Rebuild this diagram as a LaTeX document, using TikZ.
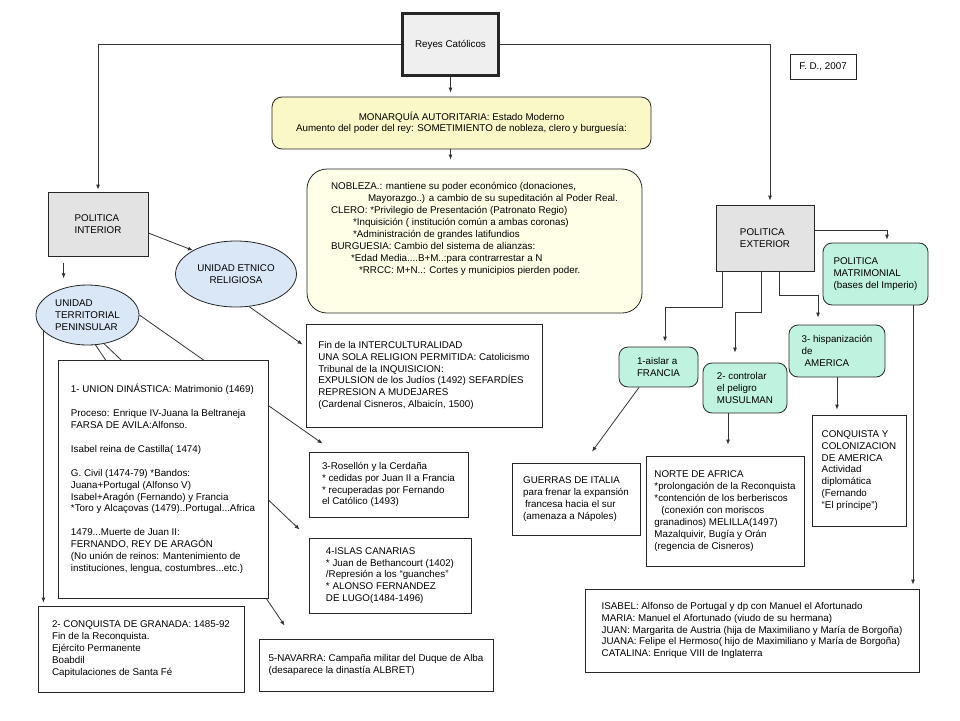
\documentclass[tikz,border=0pt]{standalone}
\usepackage{fontspec}
\setmainfont{Liberation Sans}
\usetikzlibrary{arrows.meta,shapes.geometric,backgrounds}
\definecolor{grisclaro}{HTML}{EFEFEF}
\definecolor{gris}{HTML}{E3E3E3}
\definecolor{amarillo}{HTML}{FBF8C8}
\definecolor{crema}{HTML}{FFFFE8}
\definecolor{celeste}{HTML}{DAE7F6}
\definecolor{menta}{HTML}{BFF2DF}
\begin{document}
\begin{tikzpicture}[x=1pt,y=-1pt,
    every node/.style={font=\fontsize{9.8}{11.9}\selectfont,inner sep=0pt},
    caja/.style={draw=black!85,fill=white,align=left,line width=0.8pt},
    gris/.style={caja,fill=gris},
    verde/.style={caja,rounded corners=9pt,fill=menta},
    elipse/.style={ellipse,draw=black!85,fill=celeste,line width=0.8pt},
    flecha/.style={draw=black!80,line width=0.8pt,-{Latex[length=5pt,width=4pt]}},
]
\useasboundingbox (0,0) rectangle (960,720);

% cabecera
\node[gris,fill=grisclaro,line width=2.5pt,minimum width=96pt,minimum height=62pt] (reyes) at (450.5,44.5) {Reyes Católicos};
\node[caja,minimum width=66pt,minimum height=25pt,align=center] (fd) at (823,66.5) {F. D., 2007};
\node[caja,fill=amarillo,rounded corners=10pt,minimum width=379pt,minimum height=52pt,align=center,
      font=\fontsize{9.8}{10.6}\selectfont] (monarquia) at (461.5,123)
  {MONARQUÍA AUTORITARIA: Estado Moderno\\
   Aumento del poder del rey: SOMETIMIENTO de nobleza, clero y burguesía:};
\node[caja,fill=crema,rounded corners=20pt,minimum width=335pt,minimum height=144pt] (nobleza) at (474.5,241)
  {NOBLEZA.: mantiene su poder económico (donaciones,\\
   \hspace*{37pt}Mayorazgo..) a cambio de su supeditación al Poder Real.\\
   CLERO: *Privilegio de Presentación (Patronato Regio)\\
   \hspace*{22pt}*Inquisición ( institución común a ambas coronas)\\
   \hspace*{22pt}*Administración de grandes latifundios\\
   BURGUESIA: Cambio del sistema de alianzas:\\
   \hspace*{20pt}*Edad Media....B+M..:para contrarrestar a N\\
   \hspace*{28pt}*RRCC: M+N..: Cortes y municipios pierden poder.\rule[-26pt]{0pt}{0pt}};

% politica interior
\node[gris,minimum width=100pt,minimum height=64pt] (pint) at (98,224) {POLITICA\\INTERIOR};
\node[elipse,minimum width=121pt,minimum height=66pt,align=center] (uetnico) at (236,274) {UNIDAD ETNICO\\RELIGIOSA};
\node[elipse,minimum width=103pt,minimum height=60pt,align=left] (uterr) at (87.5,315) {UNIDAD\\TERRITORIAL\\PENINSULAR};
\node[caja,minimum width=210pt,minimum height=238pt] (union) at (163,479)
  {1- UNION DINÁSTICA: Matrimonio (1469)\\[11.9pt]
   Proceso: Enrique IV-Juana la Beltraneja\\
   FARSA DE AVILA:Alfonso.\\[11.9pt]
   Isabel reina de Castilla( 1474)\\[11.9pt]
   G. Civil (1474-79) *Bandos:\\
   Juana+Portugal (Alfonso V)\\
   Isabel+Aragón (Fernando) y Francia\\
   *Toro y Alcaçovas (1479)..Portugal...Africa\\[11.9pt]
   1479...Muerte de Juan II:\\
   FERNANDO, REY DE ARAGÓN\\
   (No unión de reinos: Mantenimiento de\\
   instituciones, lengua, costumbres...etc.)};
\node[caja,minimum width=236pt,minimum height=103pt] (intercult) at (424,375.5)
  {Fin de la INTERCULTURALIDAD\\
   UNA SOLA RELIGION PERMITIDA: Catolicismo\\
   Tribunal de la INQUISICION:\\
   EXPULSION de los Judíos (1492) SEFARDÍES\\
   REPRESION A MUDEJARES\\
   (Cardenal Cisneros, Albaicín, 1500)};
\node[caja,minimum width=159pt,minimum height=65pt] (rosellon) at (388.5,484.5)
  {3-Rosellón y la Cerdaña\\
   * cedidas por Juan II a Francia\\
   * recuperadas por Fernando\\
   el Católico (1493)};
\node[caja,minimum width=162pt,minimum height=75pt] (canarias) at (390,575.5)
  {4-ISLAS CANARIAS\\
   * Juan de Bethancourt (1402)\\
   /Represión a los “guanches”\\
   * ALONSO FERNANDEZ\\
   DE LUGO(1484-1496)};
\node[caja,minimum width=206pt,minimum height=86pt] (granada) at (141,649)
  {2- CONQUISTA DE GRANADA: 1485-92\\
   Fin de la Reconquista.\\
   Ejército Permanente\\
   Boabdil\\
   Capitulaciones de Santa Fé};
\node[caja,minimum width=234pt,minimum height=52pt] (navarra) at (376,665)
  {5-NAVARRA: Campaña militar del Duque de Alba\\
   (desaparece la dinastía ALBRET)};

% politica exterior
\node[gris,minimum width=98pt,minimum height=66pt] (pext) at (765,238) {POLITICA\\EXTERIOR};
\node[verde,minimum width=105pt,minimum height=62pt] (matrim) at (875.5,274) {POLITICA\\MATRIMONIAL\\(bases del Imperio)};
\node[verde,minimum width=79pt,minimum height=40pt] (aislar) at (658.5,367) {1-aislar a\\FRANCIA};
\node[verde,minimum width=84pt,minimum height=50pt] (controlar) at (745,388) {2- controlar\\el peligro\\MUSULMAN};
\node[verde,minimum width=96pt,minimum height=52pt] (hisp) at (837,351) {3- hispanización\\de\\\hspace*{3pt}AMERICA};
\node[caja,minimum width=128pt,minimum height=72pt] (guerras) at (576,499)
  {GUERRAS DE ITALIA\\
   para frenar la expansión\\
   \hspace*{2pt}francesa hacia el sur\\
   (amenaza a Nápoles)};
\node[caja,minimum width=158pt,minimum height=110pt] (norte) at (725,511)
  {NORTE DE AFRICA\\
   *prolongación de la Reconquista\\
   *contención de los berberiscos\\
   \hspace*{7pt}(conexión con moriscos\\
   granadinos) MELILLA(1497)\\
   Mazalquivir, Bugía y Orán\\
   (regencia de Cisneros)};
\node[caja,minimum width=94pt,minimum height=111pt] (conqam) at (859,470.5)
  {CONQUISTA Y\\
   COLONIZACION\\
   DE AMERICA\\
   Actividad\\
   diplomática\\
   (Fernando\\
   “El príncipe”)};
\node[caja,minimum width=334pt,minimum height=83pt] (hijos) at (752,630.5)
  {ISABEL: Alfonso de Portugal y dp con Manuel el Afortunado\\
   MARIA: Manuel el Afortunado (viudo de su hermana)\\
   JUAN: Margarita de Austria (hija de Maximiliano y María de Borgoña)\\
   JUANA: Felipe el Hermoso( hijo de Maximiliano y María de Borgoña)\\
   CATALINA: Enrique VIII de Inglaterra};

% conectores
\draw[flecha,shorten >=2pt] (reyes.west) -| (pint.north);
\draw[flecha,shorten >=4pt] (reyes.east) -| ([xshift=5pt]pext.north);
\draw[flecha,shorten >=4pt] (reyes.south) -- (reyes.south |- monarquia.north);
\draw[flecha,shorten >=9pt] (reyes.south |- monarquia.south) -- (reyes.south |- nobleza.north);
\draw[flecha] ([yshift=-9pt]pint.east) -- (uetnico.north west);
\draw[flecha] ([xshift=16pt,yshift=-7pt]pint.south west) -- ([xshift=16pt,yshift=-22pt]pint.south west);
\draw[flecha] (uetnico.-68) -- ([xshift=-3pt,yshift=-21pt]intercult.north west);
\draw[flecha,shorten >=3pt] (uterr.200) -- (uterr.200 |- granada.north);
\begin{scope}[on background layer]
  \draw[flecha] (uterr.east) -- ([xshift=14pt,yshift=8pt]rosellon.north west);
  \draw[flecha] (uterr.-60) -- ([xshift=-9pt,yshift=8pt]canarias.north west);
  \draw[flecha] (uterr.-75) -- ([xshift=26pt,yshift=13pt]navarra.north west);
\end{scope}
\draw[flecha,shorten >=3pt] ([yshift=8pt]pext.east) -| ([xshift=11.5pt]matrim.north);
\draw[flecha,shorten >=5pt] ([xshift=-43pt]pext.south) -- ++(0,36) -| ([xshift=6.5pt]aislar.north);
\draw[flecha,shorten >=10pt] ([xshift=-4pt]pext.south) -- ++(0,41) -| ([xshift=-10pt]controlar.north);
\draw[flecha,shorten >=7pt] ([xshift=14pt]pext.south) -- ++(0,24) -| ([xshift=-19pt]hisp.north);
\draw[flecha,shorten >=4pt] ([xshift=37.5pt]matrim.south) -- ([xshift=37.5pt]matrim.south |- hijos.north);
\draw[flecha,shorten >=5pt] (hisp.south) -- (hisp.south |- conqam.north);
\draw[flecha] ([xshift=-19.5pt]aislar.south) -- ([xshift=16pt,yshift=11pt]guerras.north);
\draw[flecha,shorten >=11pt] ([xshift=-17pt]controlar.south) -- ([xshift=-17pt]controlar.south |- norte.north);

\end{tikzpicture}
\end{document}
